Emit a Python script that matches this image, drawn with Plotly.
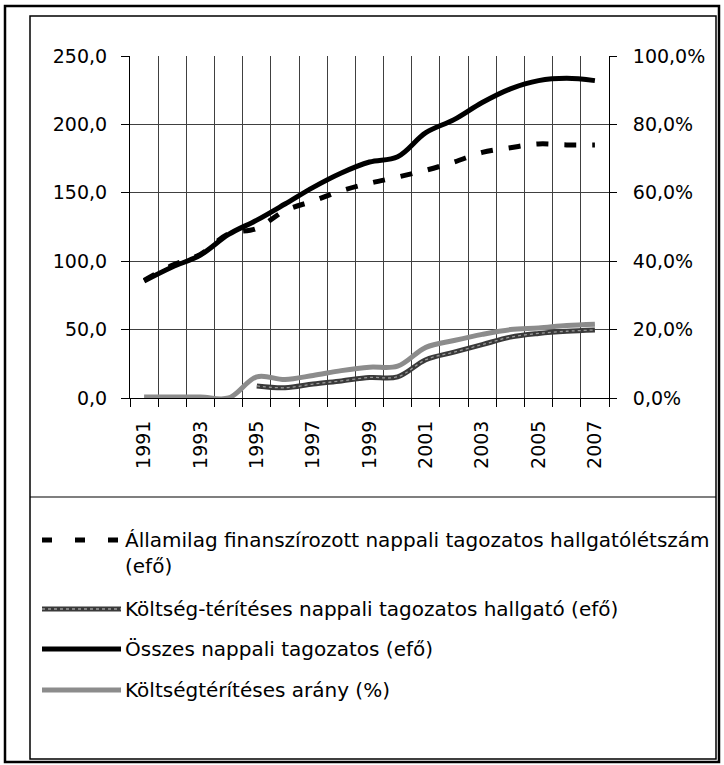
import plotly.graph_objects as go

# ---------------- data ----------------
years = list(range(1991, 2008))
year_labels = [str(y) for y in years[::2]]

allami = [86, 97, 105, 120, 124, 137, 144, 151.5, 157, 161.5, 166.5, 172.5, 179.5, 183, 185.7, 185, 185]
koltseg = [None, None, None, None, 8.8, 7.5, 10.2, 12.5, 15.0, 15.5, 28.0, 33.5, 39.0, 44.5, 47.2, 48.8, 49.7]
osszes = [85.5, 95.7, 104.5, 119.6, 130.0, 141.8, 154.0, 164.5, 172.5, 176.4, 194.0, 203.5, 216.0, 226.0, 232.0, 233.7, 232.0]
arany = [0.3, 0.3, 0.3, 0.0, 6.2, 5.4, 6.6, 8.0, 9.0, 9.3, 14.8, 16.8, 18.6, 20.0, 20.5, 21.2, 21.6]

names = [
    "Államilag finanszírozott nappali tagozatos hallgatólétszám<br>(efő)",
    "Költség-térítéses nappali tagozatos hallgató (efő)",
    "Összes nappali tagozatos (efő)",
    "Költségtérítéses arány (%)",
]

# ---------------- geometry ----------------
W, H = 724, 765
L, R, T, B = 130, 115, 56, 367
PW, PH = W - L - R, H - T - B
FONT = "DejaVu Sans"


def fx(px):
    return (px - L) / PW


def fy(py):
    return (H - B - py) / PH


fig = go.Figure()

fig.add_trace(go.Scatter(x=years, y=allami, mode="lines", name=names[0], showlegend=False,
                         line=dict(color="black", width=5, dash="12px,16px", shape="spline")))
fig.add_trace(go.Scatter(x=years, y=koltseg, mode="lines", name=names[1], showlegend=False,
                         line=dict(color="#3a3a3a", width=5, shape="spline")))
fig.add_trace(go.Scatter(x=years, y=koltseg, mode="lines", name=names[1] + " ", showlegend=False,
                         hoverinfo="skip",
                         line=dict(color="#9a9a9a", width=1.3, dash="dot", shape="spline")))
fig.add_trace(go.Scatter(x=years, y=osszes, mode="lines", name=names[2], showlegend=False,
                         line=dict(color="black", width=5, shape="spline")))
fig.add_trace(go.Scatter(x=years, y=arany, mode="lines", name=names[3], showlegend=False,
                         yaxis="y2",
                         line=dict(color="#8c8c8c", width=5, shape="spline")))

grid_col = "#404040"
tickfont = dict(family=FONT, size=19, color="black")

fig.update_layout(
    width=W, height=H,
    margin=dict(l=L, r=R, t=T, b=B, autoexpand=False),
    paper_bgcolor="white", plot_bgcolor="white",
    separators=", ",
    showlegend=False,
    font=dict(family=FONT, size=19, color="black"),
    xaxis=dict(
        range=[1990.5, 2007.5], tickmode="array", tickvals=years[::2], ticktext=year_labels,
        tickangle=-90, ticks="", showgrid=False, zeroline=False,
        showline=True, linecolor="black", linewidth=1,
        ticklabelstandoff=14, tickfont=tickfont,
        minor=dict(tickmode="array", tickvals=[y - 0.5 for y in years] + [years[-1] + 0.5],
                   ticks="outside", ticklen=8, tickcolor="black", tickwidth=1,
                   showgrid=True, gridcolor=grid_col, gridwidth=1),
    ),
    yaxis=dict(
        range=[0, 250], dtick=50, tick0=0, tickformat=".1f",
        ticks="outside", ticklen=8, tickcolor="black",
        showline=True, linecolor="black", linewidth=1,
        showgrid=True, gridcolor=grid_col, gridwidth=1, zeroline=False,
        ticklabelstandoff=10, tickfont=tickfont,
    ),
    yaxis2=dict(
        overlaying="y", side="right", range=[0, 100], dtick=20, tick0=0,
        tickformat=".1f", ticksuffix="%",
        ticks="outside", ticklen=7, tickcolor="black",
        showline=True, linecolor="black", linewidth=1,
        showgrid=False, zeroline=False,
        ticklabelstandoff=12, tickfont=tickfont,
    ),
)

shapes = []
# outer and inner frames
shapes.append(dict(type="rect", xref="paper", yref="paper", x0=fx(5), x1=fx(719), y0=fy(762), y1=fy(6),
                   line=dict(color="black", width=2.5)))
shapes.append(dict(type="rect", xref="paper", yref="paper", x0=fx(30), x1=fx(716), y0=fy(759), y1=fy(16),
                   line=dict(color="black", width=1.5)))
# legend box top
shapes.append(dict(type="line", xref="paper", yref="paper", x0=fx(30), x1=fx(716), y0=fy(497), y1=fy(497),
                   line=dict(color="black", width=1.2)))

# legend symbols + texts
leg_y = [540, 609, 649, 690]
sym_x0, sym_x1, txt_x = 42, 121, 123
shapes.append(dict(type="line", xref="paper", yref="paper", x0=fx(sym_x0), x1=fx(sym_x1),
                   y0=fy(leg_y[0]), y1=fy(leg_y[0]), line=dict(color="black", width=5, dash="10px,23px")))
shapes.append(dict(type="line", xref="paper", yref="paper", x0=fx(sym_x0), x1=fx(sym_x1),
                   y0=fy(leg_y[1]), y1=fy(leg_y[1]), line=dict(color="#3a3a3a", width=5)))
shapes.append(dict(type="line", xref="paper", yref="paper", x0=fx(sym_x0), x1=fx(sym_x1),
                   y0=fy(leg_y[1]), y1=fy(leg_y[1]), line=dict(color="#9a9a9a", width=1.3, dash="dot")))
shapes.append(dict(type="line", xref="paper", yref="paper", x0=fx(sym_x0), x1=fx(sym_x1),
                   y0=fy(leg_y[2]), y1=fy(leg_y[2]), line=dict(color="black", width=5)))
shapes.append(dict(type="line", xref="paper", yref="paper", x0=fx(sym_x0), x1=fx(sym_x1),
                   y0=fy(leg_y[3]), y1=fy(leg_y[3]), line=dict(color="#8c8c8c", width=5)))
fig.update_layout(shapes=shapes)

legfont = dict(family=FONT, size=20, color="black")
annotations = [
    dict(xref="paper", yref="paper", x=fx(txt_x), y=fy(leg_y[0] - 14), xanchor="left", yanchor="top",
         text=names[0], showarrow=False, align="left", font=legfont),
]
for i in (1, 2, 3):
    annotations.append(dict(xref="paper", yref="paper", x=fx(txt_x), y=fy(leg_y[i]), xanchor="left",
                            yanchor="middle", text=names[i], showarrow=False, align="left", font=legfont))
fig.update_layout(annotations=annotations)

fig.write_html("out.html", config={"displayModeBar": False},
               post_script="document.body.style.margin='0';document.body.style.overflow='hidden';")
